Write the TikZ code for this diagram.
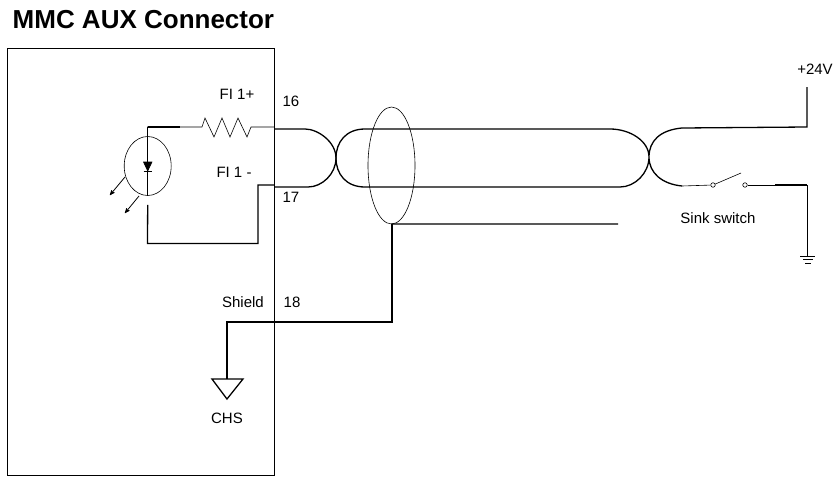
\documentclass[tikz,border=0pt]{standalone}
\usepackage{fontspec}
\setmainfont{Liberation Sans}
\usetikzlibrary{shapes,arrows}
\tikzset{
  lbl/.style = {inner sep=0pt, font=\fontsize{15}{18}\selectfont},
  wire/.style = {line width=1.3pt},
  thinwire/.style = {line width=0.6pt},
  contact/.style = {circle, draw=black, thinwire, fill=white,
    minimum size=4.5pt, inner sep=0pt}% switch contact
}
\begin{document}
\begin{tikzpicture}[x=1pt,y=-1pt,>=stealth']
\useasboundingbox (0,0) rectangle (836,477);
\node [lbl, anchor=base west, font=\bfseries\fontsize{26}{30}\selectfont] (title) at (12.5,28) {MMC AUX Connector};
\node [draw, thinwire, rectangle, inner sep=0pt, minimum width=267pt, minimum height=427pt] (conn) at (140.5,261.5) {};
% labels
\node [lbl] (fip) at (237,94) {FI 1+};
\node [lbl] (fim) at (234,172) {FI 1 -};
\node [lbl] (pin16) at (291,101) {16};
\node [lbl] (pin17) at (291,197) {17};
\node [lbl] (shield) at (243,302) {Shield};
\node [lbl] (pin18) at (292,302) {18};
\node [lbl] (chs) at (227,418) {CHS};
\node [lbl] (sink) at (718,218) {Sink switch};
\node [lbl] (vcc) at (815,69) {+24V};
% led
\node [draw, thinwire, ellipse, inner sep=0pt, minimum width=47pt, minimum height=59pt] (led) at (147.7,166) {};
\coordinate (ledtop) at (147.5,127);
\coordinate (resl) at (202,127);
\coordinate (resr) at (251,127);
\coordinate (a16) at (274,127);
\coordinate (a17) at (274,185);
\coordinate (ledlow) at (147.5,243.5);
\coordinate (stepl) at (258,243.5);
\coordinate (stepu) at (258,185);
\draw [thinwire] (led.north) -- (led.south);
\draw [wire] (led.south) ++(0,9) -- (ledlow) -- (stepl) -- (stepu) -- (a17);
\draw [wire] (ledtop) -- (180,127);
\draw [thinwire] (led.south) -- (ledtop) -- (resl)
  -- (205,118) -- (214,137) -- (222,118) -- (230,137) -- (238,118) -- (247,137)
  -- (resr) -- (a16);
\draw [fill=black, thinwire] (143.5,162) -- (152,162) -- (147.7,171) -- cycle;
\draw [thinwire] (143.5,171.5) -- (152,171.5);
\draw [->, line width=0.8pt] (125,177) -- (110,195);
\draw [->, line width=0.8pt] (139,196) -- (125,213);
% cable
\coordinate (l1) at (274,129);
\coordinate (l2) at (274,187);
\coordinate (tw1) at (336,158);
\coordinate (tw2) at (649,157);
\coordinate (r1) at (682,128);
\coordinate (r2) at (682,186);
\draw [wire] (l1) -- (305,129) .. controls (318,129) and (336,142) .. (tw1)
  .. controls (336,174) and (322,187) .. (308,187) -- (l2);
\draw [wire] (tw1) .. controls (336,142) and (346,129) .. (365,129) -- (610,129)
  .. controls (630,129) and (649,141) .. (tw2)
  .. controls (649,141) and (660,130) .. (r1);
\draw [wire] (tw1) .. controls (336,174) and (346,187) .. (365,187) -- (620,187)
  .. controls (635,187) and (649,173) .. (tw2)
  .. controls (649,173) and (662,184) .. (r2);
\node [draw, thinwire, ellipse, inner sep=0pt, minimum width=47pt, minimum height=117pt] (shd) at (391.5,165.5) {};
% +24V side
\coordinate (vtop) at (807,87);
\draw [wire] (r1) -- (807,127) -- (vtop);
% switch
\node [contact] (sw1) at (713,185) {};
\node [contact] (sw2) at (745,185) {};
\coordinate (blade) at (741,173);
\coordinate (gnd) at (807,256);
\draw [thinwire] (r2) -- (sw1);
\draw [thinwire] (sw1) -- (blade);
\draw [thinwire] (sw2) -- (775,185);
\draw [wire] (775,185) -- (807,185);
\draw [thinwire] (807,185) -- (gnd);
\draw [thinwire] (800,256) -- (815,256) (803,259.5) -- (813,259.5) (805,263) -- (811,263);
% shield wire
\coordinate (drain) at (392,224);
\coordinate (bend) at (392,322);
\coordinate (chsb) at (227,322);
\coordinate (chst) at (227,379);
\draw [wire] (shd.south) -- (drain) -- (618,224);
\draw [wire] (drain) -- (bend) -- (chsb) -- (chst);
\draw [wire] (212,379) -- (243,379) -- (227,399) -- cycle;
\end{tikzpicture}
\end{document}
